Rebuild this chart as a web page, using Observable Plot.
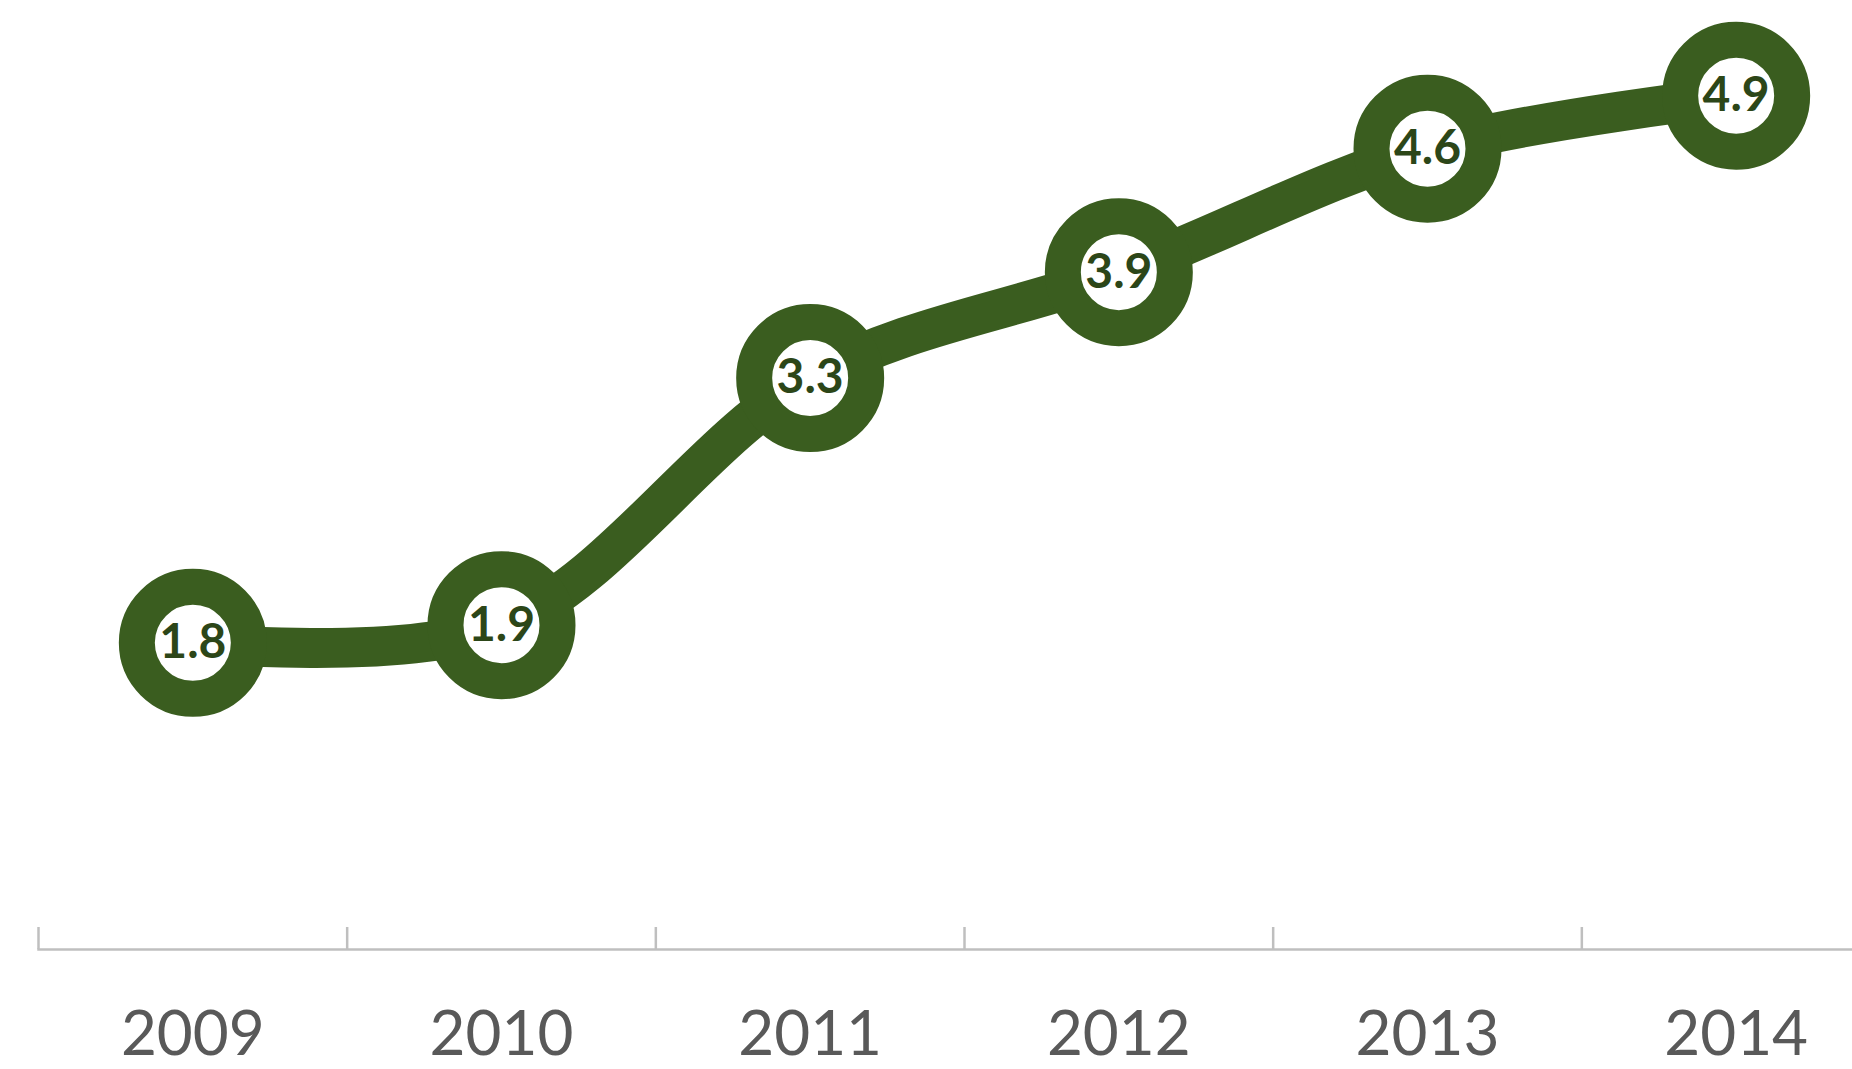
<!DOCTYPE html>
<html>
<head>
<meta charset="utf-8">
<script src="https://cdn.jsdelivr.net/npm/d3@7"></script>
<script src="https://cdn.jsdelivr.net/npm/@observablehq/plot@0.6"></script>
<style>
  html, body { margin: 0; padding: 0; background: #ffffff; overflow: hidden; }
  #chart svg { display: block; }
</style>
</head>
<body>
<div id="chart"></div>
<script>
const years = [2009, 2010, 2011, 2012, 2013, 2014];
const values = [1.8, 1.9, 3.3, 3.9, 4.6, 4.9];
const valueLabels = ["1.8", "1.9", "3.3", "3.9", "4.6", "4.9"];
const yearLabels = ["2009", "2010", "2011", "2012", "2013", "2014"];

const data = years.map((year, i) => ({year, value: values[i], label: valueLabels[i], yearLabel: yearLabels[i]}));
const boundaries = years.map(y => y - 0.5).concat([years[years.length - 1] + 0.5]);

const green = "#3a5d1f";
const textGreen = "#2c4618";

const chart = Plot.plot({
  width: 1852,
  height: 1069,
  marginTop: 0,
  marginLeft: 38,
  marginRight: 0,
  marginBottom: 120,
  style: {background: "#ffffff", overflow: "visible"},
  x: {type: "linear", domain: [2008.5, 2014.5], range: [38, 1890], axis: null, label: null},
  y: {type: "linear", domain: [0, 5.4], range: [960, 7], axis: null, label: null},
  marks: [
    Plot.frame({anchor: "bottom", stroke: "#bfbfbf", strokeWidth: 2.5}),
    Plot.axisX({ticks: boundaries, tickSize: -22, tickFormat: () => "", stroke: "#bfbfbf", strokeWidth: 2.5, anchor: "bottom", label: null}),
    Plot.text(data, {x: "year", text: "yearLabel", frameAnchor: "bottom", dy: 86, lineAnchor: "middle", fontSize: 62, fill: "#595959", fontFamily: "Lato, 'Open Sans', sans-serif"}),
    Plot.line(data, {x: "year", y: "value", stroke: green, strokeWidth: 40, strokeLinejoin: "round", strokeLinecap: "round", curve: "catmull-rom"}),
    Plot.dot(data, {x: "year", y: "value", r: 56, fill: "#ffffff", stroke: green, strokeWidth: 36}),
    Plot.text(data, {x: "year", y: "value", text: "label", fontSize: 48, fontWeight: 700, fill: textGreen, lineAnchor: "middle", fontFamily: "Lato, 'Open Sans', sans-serif"})
  ]
});
document.getElementById("chart").append(chart);
</script>
</body>
</html>
